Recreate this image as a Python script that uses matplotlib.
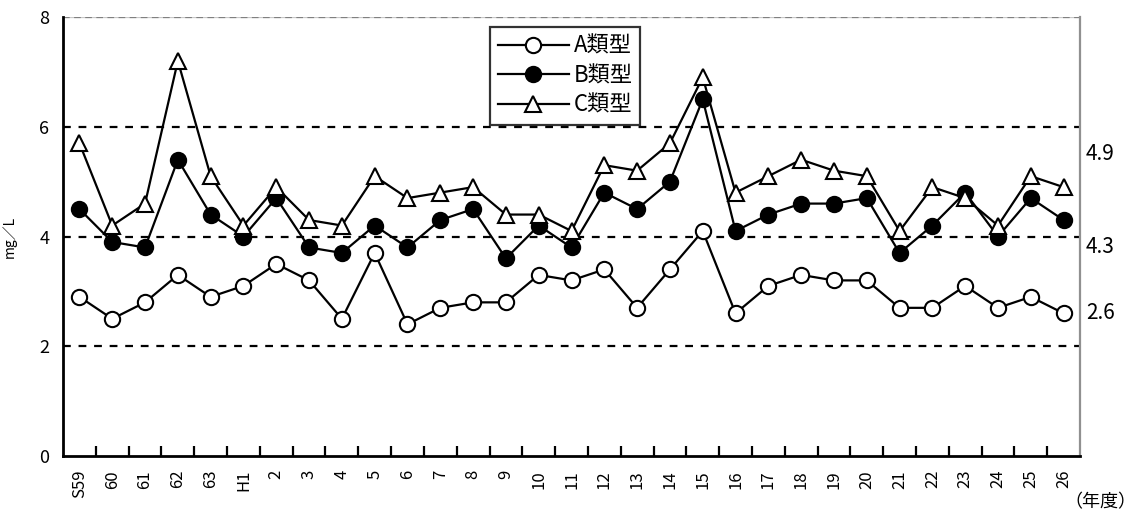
import matplotlib
matplotlib.use("Agg")
import matplotlib.pyplot as plt
from matplotlib.ticker import FixedLocator

plt.rcParams['font.family'] = ['Noto Sans CJK JP', 'DejaVu Sans']

# fiscal years (Showa 59 .. Heisei 26)
years = ["S59", "60", "61", "62", "63", "H1", "2", "3", "4", "5", "6", "7", "8",
         "9", "10", "11", "12", "13", "14", "15", "16", "17", "18", "19", "20",
         "21", "22", "23", "24", "25", "26"]

type_a = [2.9, 2.5, 2.8, 3.3, 2.9, 3.1, 3.5, 3.2, 2.5, 3.7, 2.4, 2.7, 2.8, 2.8,
          3.3, 3.2, 3.4, 2.7, 3.4, 4.1, 2.6, 3.1, 3.3, 3.2, 3.2, 2.7, 2.7, 3.1,
          2.7, 2.9, 2.6]
type_b = [4.5, 3.9, 3.8, 5.4, 4.4, 4.0, 4.7, 3.8, 3.7, 4.2, 3.8, 4.3, 4.5, 3.6,
          4.2, 3.8, 4.8, 4.5, 5.0, 6.5, 4.1, 4.4, 4.6, 4.6, 4.7, 3.7, 4.2, 4.8,
          4.0, 4.7, 4.3]
type_c = [5.7, 4.2, 4.6, 7.2, 5.1, 4.2, 4.9, 4.3, 4.2, 5.1, 4.7, 4.8, 4.9, 4.4,
          4.4, 4.1, 5.3, 5.2, 5.7, 6.9, 4.8, 5.1, 5.4, 5.2, 5.1, 4.1, 4.9, 4.7,
          4.2, 5.1, 4.9]

fig = plt.figure(figsize=(11.42, 5.16), dpi=100)
ax = fig.add_axes([0.0552, 0.1163, 0.8905, 0.8507])

x = list(range(len(years)))
common = dict(color="black", linewidth=1.6, markersize=11, markeredgewidth=1.5,
              markeredgecolor="black", clip_on=False, zorder=3)
ax.plot(x, type_a, marker="o", markerfacecolor="white", label="A類型", **common)
ax.plot(x, type_b, marker="o", markerfacecolor="black", label="B類型", **common)
ax.plot(x, type_c, marker="^", markerfacecolor="white", label="C類型", **common)

ax.set_xlim(-0.5, len(years) - 0.5)
ax.set_ylim(0, 8)

# dashed reference lines
for yv in (2, 4, 6):
    ax.axhline(yv, color="black", linewidth=1.6, linestyle=(0, (3.5, 3.5)), zorder=1)
ax.axhline(8, color="#c8c8c8", linewidth=1.6, zorder=1)
ax.axhline(8, color="#808080", linewidth=1.6, linestyle=(0, (3, 2)), zorder=1)

ax.spines["top"].set_visible(False)
ax.spines["right"].set_color("#909090")
ax.spines["right"].set_linewidth(1.6)
ax.spines["left"].set_linewidth(2)
ax.spines["bottom"].set_linewidth(2)

ax.set_yticks([0, 2, 4, 6, 8])
ax.tick_params(axis="y", length=0, labelsize=13, pad=10)
ax.set_xticks(x)
ax.set_xticklabels(years, rotation=90, fontsize=12)
ax.tick_params(axis="x", which="major", length=0, pad=10)
ax.xaxis.set_minor_locator(FixedLocator([i + 0.5 for i in range(len(years) - 1)]))
ax.tick_params(axis="x", which="minor", direction="in", length=7, width=1.6)

ax.set_ylabel("mg／L", fontsize=10, labelpad=16)

# latest values next to the right edge
ax.text(1.006, 5.5, f"{type_c[-1]:.1f}", transform=ax.get_yaxis_transform(),
        fontsize=15, va="center", ha="left")
ax.text(1.006, 3.8, f"{type_b[-1]:.1f}", transform=ax.get_yaxis_transform(),
        fontsize=15, va="center", ha="left")
ax.text(1.006, type_a[-1], f"{type_a[-1]:.1f}", transform=ax.get_yaxis_transform(),
        fontsize=15, va="center", ha="left")

fig.text(0.995, 0.01, "（年度）", fontsize=13, ha="right", va="bottom")

leg = ax.legend(loc="upper left", bbox_to_anchor=(0.42, 0.978), fontsize=16,
                frameon=True, fancybox=False, edgecolor="black", handlelength=3.2,
                borderpad=0.35, labelspacing=0.3, handletextpad=0.2,
                borderaxespad=0)
leg.get_frame().set_linewidth(1.6)

fig.savefig("out.png", dpi=100)
